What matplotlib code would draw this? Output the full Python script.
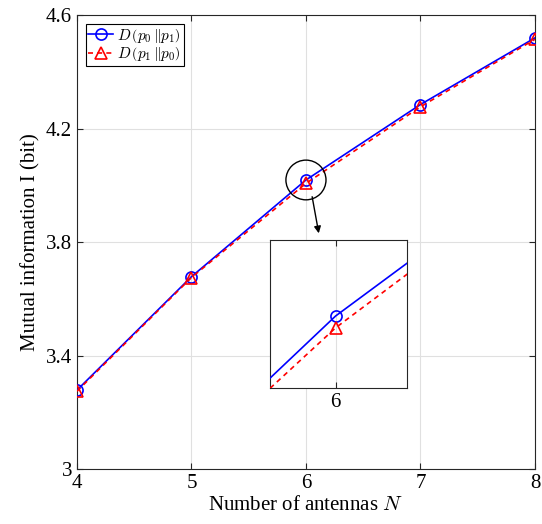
import matplotlib.pyplot as plt
import numpy as np
from matplotlib.patches import Ellipse

# Data
antennas = [4, 5, 6, 7, 8]
d_p0_p1 = [3.278, 3.678, 4.019, 4.285, 4.520]
d_p1_p0 = [3.274, 3.675, 4.007, 4.277, 4.515]
labels = [r'$D\,\left(p_0\,\|p_1\right)$', r'$D\,\left(p_1\,\|p_0\right)$']
yticks = [3, 3.4, 3.8, 4.2, 4.6]

plt.rcParams['font.family'] = 'Liberation Serif'
plt.rcParams['mathtext.fontset'] = 'cm'

fig = plt.figure(figsize=(5.42, 5.24), dpi=100)
ax = fig.add_axes([0.142, 0.105, 0.845, 0.866])


def draw(a):
    a.plot(antennas, d_p0_p1, '-o', color='b', lw=1.2, ms=8, mfc='none',
           mew=1.2, label=labels[0], zorder=3)
    a.plot(antennas, d_p1_p0, '--^', color='r', lw=1.2, ms=8, mfc='none',
           mew=1.2, label=labels[1], zorder=3, dashes=(3, 2.5))
    a.grid(True, color='#e0e0e0', lw=0.8)
    a.set_axisbelow(True)
    a.tick_params(direction='in', top=True, right=True, color='#262626')
    for s in a.spines.values():
        s.set_color('#262626')
        s.set_linewidth(0.8)


draw(ax)
ax.set_xlim(4, 8)
ax.set_ylim(3, 4.6)
ax.set_xticks(antennas)
ax.set_yticks(yticks)
ax.set_yticklabels(['3', '3.4', '3.8', '4.2', '4.6'])
ax.tick_params(labelsize=15, length=4)
ax.set_xlabel(r'Number of antennas $N$', fontsize=15, labelpad=2)
ax.set_ylabel('Mutual information I (bit)', fontsize=15, labelpad=4)
leg = ax.legend(loc='upper left', fontsize=11, fancybox=False, framealpha=1,
                edgecolor='k', handlelength=1.6, borderpad=0.15,
                labelspacing=0.05, handletextpad=0.3, borderaxespad=0.6)
leg.get_frame().set_linewidth(0.8)

# circle around N=6 and arrow to the zoomed view
ax.add_patch(Ellipse((6, 4.019), 0.35, 0.14, fill=False, ec='k', lw=1, zorder=4))
ax.annotate('', xy=(6.112, 3.831), xytext=(6.054, 3.96),
            arrowprops=dict(arrowstyle='-|>', color='k', lw=1,
                            mutation_scale=10, shrinkA=0, shrinkB=0))

ins = fig.add_axes([0.498, 0.2595, 0.2522, 0.2824])
draw(ins)
ins.set_xlim(5.815, 6.2)
ins.set_ylim(3.946, 4.096)
ins.set_xticks([6])
ins.set_yticks([])
ins.tick_params(labelsize=15, length=4)

fig.savefig('out.png', dpi=100)
